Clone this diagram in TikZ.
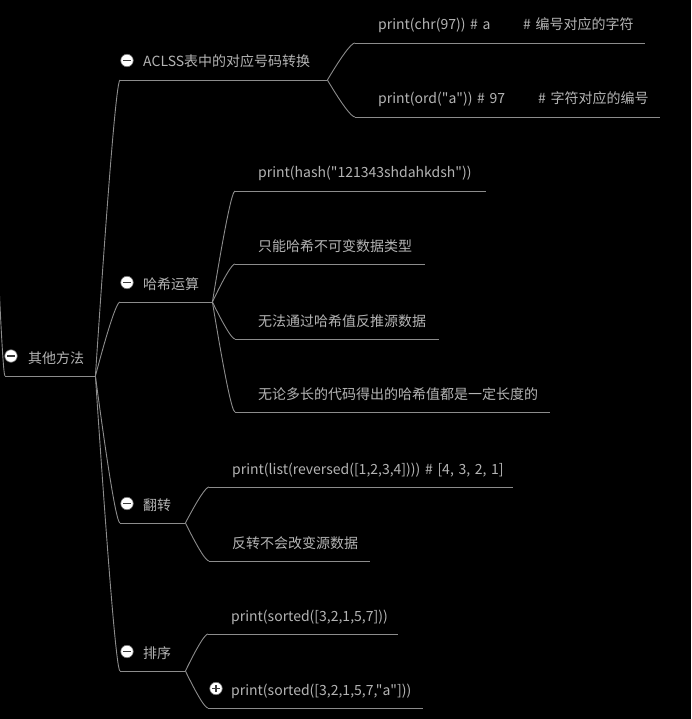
\documentclass[tikz,border=0pt]{standalone}
\usepackage{fontspec}
\newfontfamily\cjk{Noto Sans CJK SC}
\usetikzlibrary{positioning,calc}
\definecolor{txt}{HTML}{B4B4B4}
\definecolor{stemline}{HTML}{8C8C8C}
\definecolor{knobbar}{HTML}{3A3A3A}
\definecolor{knobline}{HTML}{707070}

\begin{document}
\begin{tikzpicture}[x=1pt,y=-1pt,
    stem/.style={color=stemline,line width=0.9pt},
    topic/.style={anchor=south west,inner sep=0pt,text width=#1,align=left,
      text height=11pt,text depth=12.8pt,text=txt,
      font=\cjk\fontsize{14pt}{16pt}\selectfont,
      execute at begin node={\noindent\hspace*{23pt}}},
    branch/.style={to path={let \p1=(\tikztostart), \p2=(\tikztotarget) in
      .. controls ({\x1+0.533*(\x2-\x1)},{\y1+0.667*(\y2-\y1)})
      and ({\x2-0.133*(\x2-\x1)},\y2) .. (\tikztotarget)}},
    knob/.style={circle,draw=knobline,fill=white,line width=0.6pt,
      minimum size=12.5pt,inner sep=0pt,
      path picture={\draw[knobbar,line width=1.8pt]
        ([xshift=-3.6pt]path picture bounding box.center) --
        ([xshift=3.6pt]path picture bounding box.center);}},
    plusknob/.style={knob,
      path picture={\draw[knobbar,line width=1.8pt]
        ([xshift=-3.6pt]path picture bounding box.center) --
        ([xshift=3.6pt]path picture bounding box.center)
        ([yshift=-3.6pt]path picture bounding box.center) --
        ([yshift=3.6pt]path picture bounding box.center);}}]
    \useasboundingbox (0,0) rectangle (691,719);
    \fill[black] (0,0) rectangle (691,719);
    \clip (0,0) rectangle (691,719);

    % topics
    \node[topic=90] (root) at (5,376) {其他方法};
    \node[topic=207] (aclss) at (120,80) {ACLSS表中的对应号码转换};
    \node[topic=92] (hash) at (120,302) {哈希运算};
    \node[topic=65] (flip) at (120,523) {翻转};
    \node[topic=65] (sort) at (120,671) {排序};

    \node[topic=290] (chr) at (355,43) {\makebox[145pt][l]{print(chr(97)) \# a}\# 编号对应的字符};
    \node[topic=305] (ord) at (355,117) {\makebox[160pt][l]{print(ord("a")) \# 97}\# 字符对应的编号};

    \node[topic=251] (h1) at (235,191) {print(hash("121343shdahkdsh"))};
    \node[topic=190] (h2) at (235,264) {只能哈希不可变数据类型};
    \node[topic=204] (h3) at (235,339) {无法通过哈希值反推源数据};
    \node[topic=315] (h4) at (235,412) {无论多长的代码得出的哈希值都是一定长度的};

    \node[topic=304] (f1) at (209,487) {print(list(reversed([1,2,3,4]))) \# [4, 3, 2, 1]};
    \node[topic=161] (f2) at (209,561) {反转不会改变源数据};

    \node[topic=190] (s1) at (208,634) {print(sorted([3,2,1,5,7]))};
    \node[topic=215] (s2) at (208,708) {print(sorted([3,2,1,5,7,"a"]))};

    % underlines
    \foreach \n in {root,aclss,hash,flip,sort,chr,ord,h1,h2,h3,h4,f1,f2,s1,s2}
      \draw[stem] (\n.south west) -- (\n.south east);

    % branches
    \coordinate (up) at (-15,-80);
    \draw[stem] (up) to[branch] (root.south west);
    \foreach \c in {aclss,hash,flip,sort}
      \draw[stem] (root.south east) to[branch] (\c.south west);
    \foreach \c in {chr,ord}
      \draw[stem] (aclss.south east) to[branch] (\c.south west);
    \foreach \c in {h1,h2,h3,h4}
      \draw[stem] (hash.south east) to[branch] (\c.south west);
    \foreach \c in {f1,f2}
      \draw[stem] (flip.south east) to[branch] (\c.south west);
    \foreach \c in {s1,s2}
      \draw[stem] (sort.south east) to[branch] (\c.south west);

    % fold marks
    \node[knob] (k-root) at ([shift={(6,-20)}]root.south west) {};
    \node[knob] (k-aclss) at ([shift={(7,-19.5)}]aclss.south west) {};
    \node[knob] (k-hash) at ([shift={(7,-19.5)}]hash.south west) {};
    \node[knob] (k-flip) at ([shift={(7,-19.5)}]flip.south west) {};
    \node[knob] (k-sort) at ([shift={(7,-19.5)}]sort.south west) {};
    \node[plusknob] (k-s2) at ([shift={(8,-19.5)}]s2.south west) {};
\end{tikzpicture}
\end{document}
